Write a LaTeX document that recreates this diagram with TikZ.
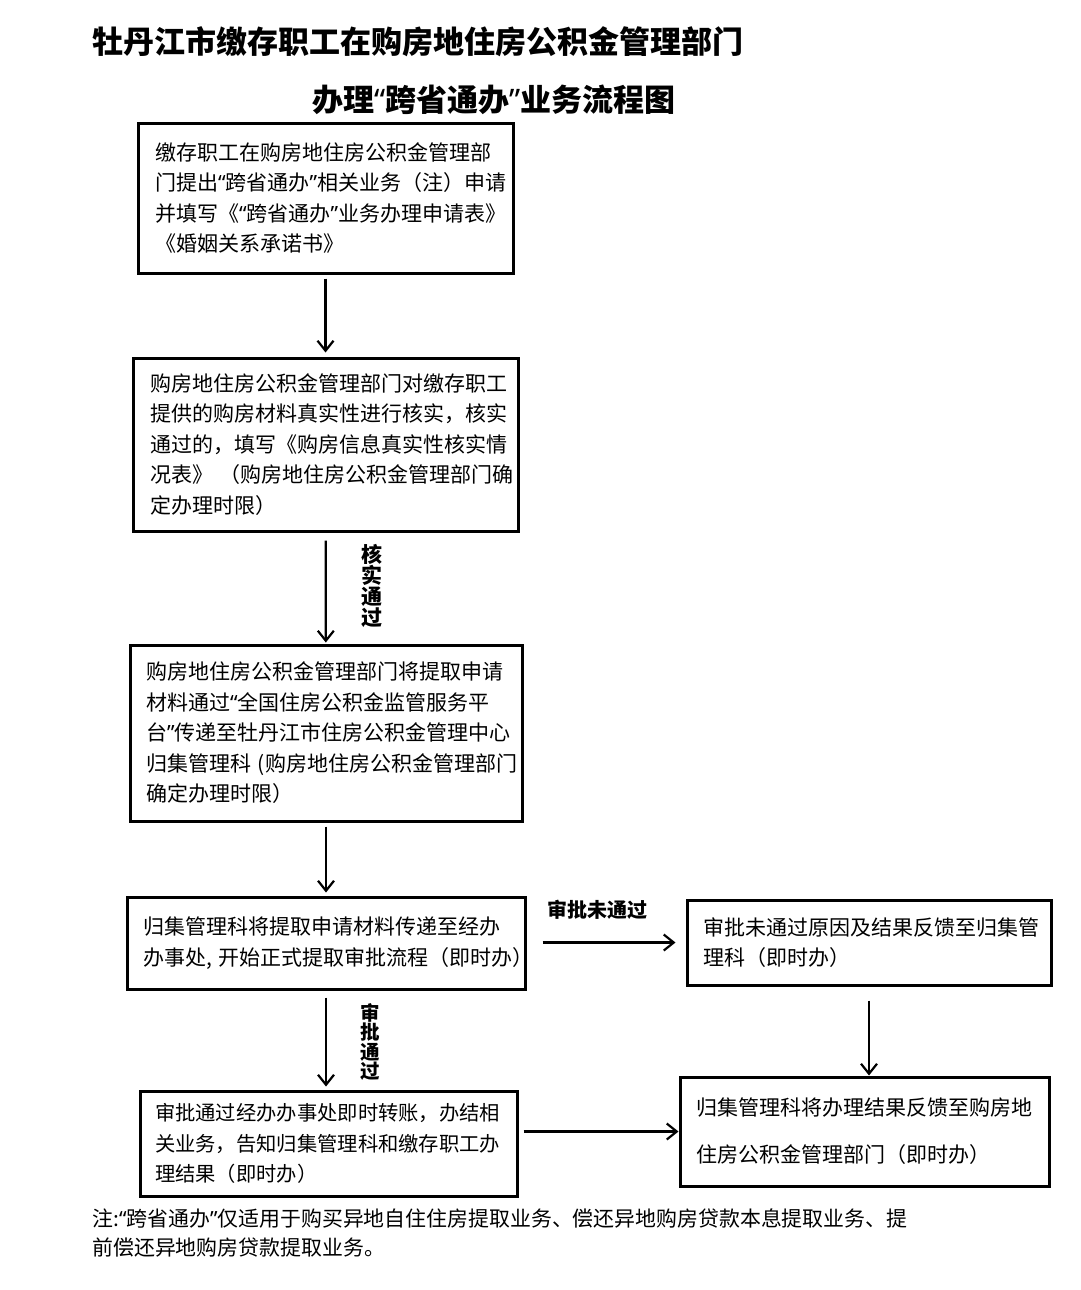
\documentclass[tikz,border=0pt]{standalone}
\usepackage{fontspec}
\setmainfont{Noto Sans CJK SC}
\newfontfamily\quotefont{Noto Sans}
\newcommand{\qL}{{\quotefont “}}
\newcommand{\qR}{{\quotefont ”}}
\usetikzlibrary{arrows.meta}

\tikzset{every picture/.style={line width=0.75pt}}
\tikzset{
  flowbox/.style={draw, line width=3pt, align=left, inner ysep=0pt, font=\fontsize{21}{30.5}\selectfont},
  flowarrow/.style={line width=2.2pt, -{Straight Barb[length=10pt,width=16pt,line width=2.2pt]}},
  flowlabel/.style={inner sep=0pt, align=center, font=\bfseries\fontsize{21}{21}\selectfont}
}

\begin{document}
\begin{tikzpicture}[x=1pt,y=1pt,yscale=-1,xscale=1]
\useasboundingbox (0,0) rectangle (1080,1290);

% Title
\node (title1) [anchor=west, inner sep=0pt, font=\bfseries\fontsize{31}{31}\selectfont] at (92,42) {牡丹江市缴存职工在购房地住房公积金管理部门};
\node (title2) [anchor=west, inner sep=0pt, font=\bfseries\fontsize{31}{31}\selectfont] at (312,100) {办理\qL 跨省通办\qR 业务流程图};

% Boxes
\node (apply) [flowbox, inner xsep=17pt, text width=341pt, minimum height=150pt] at (325.5,198) {缴存职工在购房地住房公积金管理部\\门提出\qL 跨省通办\qR 相关业务（注）申请\\并填写《\qL 跨省通办\qR 业务办理申请表》\\《婚姻关系承诺书》};
\node (verify) [flowbox, inner xsep=17pt, text width=351pt, minimum height=173pt] at (325.5,444.5) {购房地住房公积金管理部门对缴存职工\\提供的购房材料真实性进行核实，核实\\通过的，填写《购房信息真实性核实情\\况表》~（购房地住房公积金管理部门确\\定办理时限）};
\node (transfer) [flowbox, inner xsep=16pt, text width=360pt, minimum height=176pt] at (326,733) {购房地住房公积金管理部门将提取申请\\材料通过\qL 全国住房公积金监管服务平\\台\qR 传递至牡丹江市住房公积金管理中心\\归集管理科~(购房地住房公积金管理部门\\确定办理时限）};
\node (collect) [flowbox, inner xsep=16pt, text width=366pt, minimum height=92pt] at (326,943) {归集管理科将提取申请材料传递至经办\\办事处,~开始正式提取审批流程（即时办）};
\node (reject) [flowbox, inner xsep=16pt, text width=332pt, minimum height=85pt] at (869,942.5) {审批未通过原因及结果反馈至归集管\\理科（即时办）};
\node (feedback) [flowbox, inner xsep=16pt, text width=337pt, minimum height=109pt, font=\fontsize{21}{47}\selectfont] at (864.5,1131.5) {归集管理科将办理结果反馈至购房地\\住房公积金管理部门（即时办）};
\node (approve) [flowbox, inner xsep=15pt, text width=347pt, minimum height=105pt, font=\fontsize{20.3}{30.5}\selectfont] at (328.5,1143.5) {审批通过经办办事处即时转账，办结相\\关业务，告知归集管理科和缴存职工办\\理结果（即时办）};

% Arrows
\draw [flowarrow, shorten <=4pt, shorten >=4pt] (apply) -- (verify);
\draw [flowarrow, shorten <=8pt, shorten >=1pt] (verify) -- (transfer);
\draw [flowarrow, shorten <=4pt, shorten >=3pt] (transfer) -- (collect);
\draw [flowarrow, shorten <=16pt, shorten >=10pt] (collect.east |- reject.west) -- (reject.west);
\draw [flowarrow, shorten <=14pt] (reject.south) -- (reject.south |- feedback.north);
\draw [flowarrow, shorten <=7pt, shorten >=3pt] (collect.south) -- (collect.south |- approve.north);
\draw [flowarrow, shorten <=5pt] (approve.east |- feedback.west) -- (feedback.west);

% Text Node
\node (passlabel) [flowlabel] at (372,586) {核\\实\\通\\过};
\node (rejectlabel) [flowlabel, font=\bfseries\fontsize{20}{20}\selectfont] at (597,910) {审批未通过};
\node (approvelabel) [flowlabel, font=\bfseries\fontsize{19.5}{19.5}\selectfont] at (370,1042) {审\\批\\通\\过};

% Note
\node (note) [anchor=west, inner sep=0pt, align=left, font=\fontsize{20.9}{29}\selectfont] at (92,1232.5) {注:\qL 跨省通办\qR 仅适用于购买异地自住住房提取业务、偿还异地购房贷款本息提取业务、提\\前偿还异地购房贷款提取业务。};
\end{tikzpicture}
\end{document}
